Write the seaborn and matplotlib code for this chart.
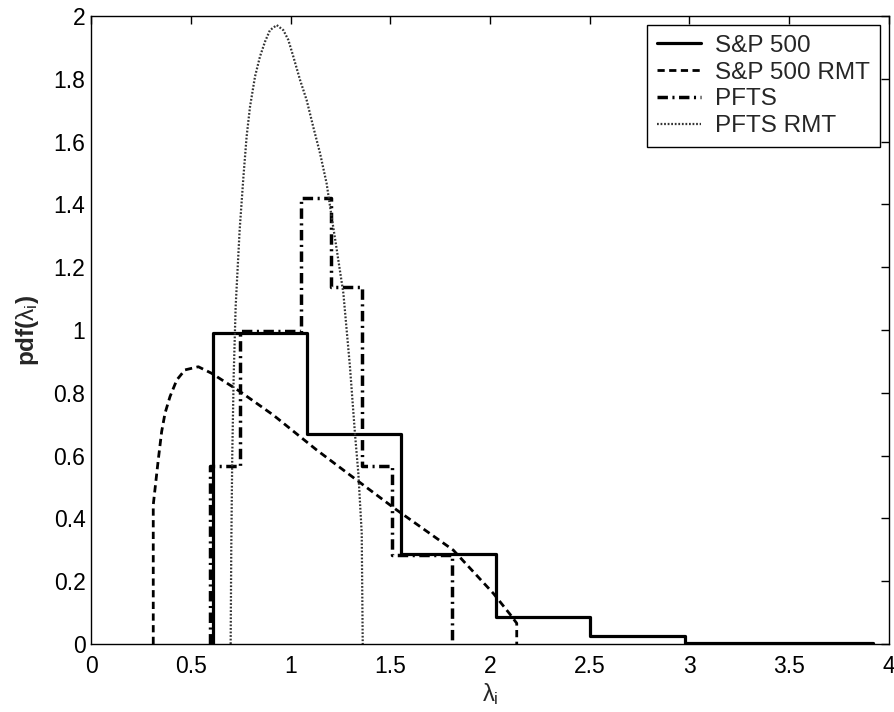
import numpy as np
import pandas as pd
import matplotlib
matplotlib.use("Agg")
import matplotlib.pyplot as plt
import seaborn as sns

# ---------------- data ----------------
series_labels = ["S&P 500", "S&P 500 RMT", "PFTS", "PFTS RMT"]

sp_edges = [0.610, 1.083, 1.556, 2.029, 2.502, 2.975, 3.448, 3.921]
sp_heights = [0.990, 0.670, 0.287, 0.087, 0.027, 0.004, 0.004]

pfts_edges = [0.596, 0.748, 0.900, 1.052, 1.204, 1.356, 1.508, 1.660, 1.812]
pfts_heights = [0.567, 0.997, 0.997, 1.420, 1.137, 0.567, 0.283, 0.283]

sp_rmt_x = [0.312, 0.312, 0.337, 0.354, 0.371, 0.396, 0.430, 0.471, 0.538,
            0.605, 0.747, 0.914, 1.131, 1.332, 1.532, 1.816, 2.017, 2.100,
            2.134, 2.134]
sp_rmt_y = [0.000, 0.443, 0.586, 0.676, 0.735, 0.788, 0.841, 0.873, 0.883,
            0.862, 0.804, 0.729, 0.618, 0.522, 0.427, 0.299, 0.161, 0.095,
            0.066, 0.000]

pfts_rmt_x = [0.700, 0.703, 0.708, 0.715, 0.725, 0.745, 0.764, 0.780, 0.797,
              0.822, 0.847, 0.872, 0.897, 0.931, 0.964, 0.989, 1.014, 1.048,
              1.081, 1.114, 1.148, 1.181, 1.206, 1.232, 1.265, 1.298, 1.323,
              1.340, 1.357, 1.362]
pfts_rmt_y = [0.000, 0.300, 0.600, 0.850, 1.074, 1.318, 1.488, 1.616, 1.711,
              1.807, 1.871, 1.918, 1.955, 1.971, 1.955, 1.924, 1.871, 1.796,
              1.732, 1.647, 1.563, 1.467, 1.361, 1.255, 1.117, 0.883, 0.671,
              0.544, 0.353, 0.000]

x_ticks = [0, 0.5, 1, 1.5, 2, 2.5, 3, 3.5, 4]
x_tick_labels = ["0", "0.5", "1", "1.5", "2", "2.5", "3", "3.5", "4"]
y_ticks = [0, 0.2, 0.4, 0.6, 0.8, 1.0, 1.2, 1.4, 1.6, 1.8, 2.0]
y_tick_labels = ["0", "0.2", "0.4", "0.6", "0.8", "1", "1.2", "1.4", "1.6", "1.8", "2"]


def step_outline(edges, heights):
    x = [edges[0]] + list(edges)
    y = [0.0] + list(heights) + [0.0]
    return pd.DataFrame({"x": x, "y": y})


# ---------------- style ----------------
sns.set_theme(style="white")
plt.rcParams.update({
    "font.family": ["Liberation Sans", "DejaVu Sans"],
    "mathtext.fontset": "custom",
    "mathtext.rm": "Liberation Sans",
    "mathtext.it": "Liberation Sans",
    "mathtext.bf": "Liberation Sans:bold",
    "axes.edgecolor": "black",
    "axes.linewidth": 1.0,
})

fig = plt.figure(figsize=(8.94, 7.12), dpi=100)
ax = fig.add_axes([0.1018, 0.0955, 0.8926, 0.882])

sp_df = step_outline(sp_edges, sp_heights)
pfts_df = step_outline(pfts_edges, pfts_heights)
sp_rmt_df = pd.DataFrame({"x": sp_rmt_x, "y": sp_rmt_y})
pfts_rmt_df = pd.DataFrame({"x": pfts_rmt_x, "y": pfts_rmt_y})

sns.lineplot(data=sp_df, x="x", y="y", sort=False, estimator=None, ax=ax,
             drawstyle="steps-post", color="black", linewidth=2.3,
             linestyle="-", label=series_labels[0])
sns.lineplot(data=sp_rmt_df, x="x", y="y", sort=False, estimator=None, ax=ax,
             color="black", linewidth=2.0, linestyle=(0, (2.6, 1.6)),
             label=series_labels[1])
sns.lineplot(data=pfts_df, x="x", y="y", sort=False, estimator=None, ax=ax,
             drawstyle="steps-post", color="black", linewidth=2.5,
             linestyle=(0, (3.0, 1.3, 0.6, 1.3)), label=series_labels[2])
sns.lineplot(data=pfts_rmt_df, x="x", y="y", sort=False, estimator=None, ax=ax,
             color="0.2", linewidth=1.6, linestyle=(0, (0.8, 0.8)),
             label=series_labels[3])

ax.set_xlim(0, 4)
ax.set_ylim(0, 2)
ax.set_xticks(x_ticks)
ax.set_xticklabels(x_tick_labels)
ax.set_yticks(y_ticks)
ax.set_yticklabels(y_tick_labels)
ax.tick_params(axis="both", which="both", direction="in", length=6, width=1.0,
               top=True, right=True, labelsize=16.5, colors="black")
ax.tick_params(axis="x", pad=8)
ax.tick_params(axis="y", pad=4)
for sp in ax.spines.values():
    sp.set_visible(True)
    sp.set_color("black")
    sp.set_linewidth(1.0)

ax.set_xlabel(r"$\lambda_i$", fontsize=17, labelpad=2)
ax.set_ylabel(r"pdf($\lambda_i$)", fontsize=17.5, fontweight="bold", labelpad=9)

leg = ax.legend(loc="upper right", frameon=True, fancybox=False,
                edgecolor="black", framealpha=1, fontsize=17.5,
                handlelength=1.8, handletextpad=0.6, labelspacing=0.2,
                borderpad=0.4, borderaxespad=0.37)
leg.get_frame().set_linewidth(1.0)

fig.savefig("out.png", dpi=100)
